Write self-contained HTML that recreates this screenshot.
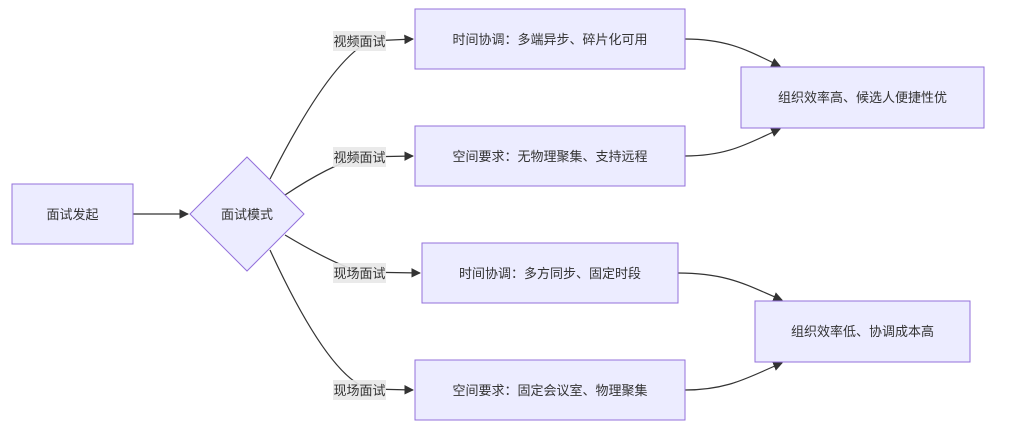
<!DOCTYPE html>
<html><head><meta charset="utf-8"><style>
body{margin:0;background:#fff;}
svg{display:block}
text{font-family:"Liberation Sans","Noto Sans CJK SC",sans-serif;font-size:13px;fill:#333;}
.n{fill:#ECECFF;stroke:#9370DB;stroke-width:1;}
.e{fill:none;stroke:#333;stroke-width:1.2;}
.lb{fill:#e8e8e8;opacity:0.9}
</style></head><body>
<svg width="1011" height="441" viewBox="0 0 1011 441">
<defs><marker id="a" viewBox="0 0 10 10" refX="9" refY="5" markerWidth="8" markerHeight="8" orient="auto"><path d="M0,0 L10,5 L0,10 z" fill="#333"/></marker></defs>
<path class="e" d="M133,214 L188,214" marker-end="url(#a)"/>
<path class="e" d="M270,179 Q330,60 370,41 L413,39" marker-end="url(#a)"/>
<path class="e" d="M285,195 Q330,165 360,157 L413,156" marker-end="url(#a)"/>
<path class="e" d="M285,235 Q330,262 360,272 L420,273" marker-end="url(#a)"/>
<path class="e" d="M270,250 Q330,380 370,389 L413,390" marker-end="url(#a)"/>
<path class="e" d="M685,39 C730,39 750,52 780,66" marker-end="url(#a)"/>
<path class="e" d="M685,156 C730,156 750,142 780,129" marker-end="url(#a)"/>
<path class="e" d="M678,273 C730,273 750,287 782,300" marker-end="url(#a)"/>
<path class="e" d="M685,390 C730,390 750,376 782,363" marker-end="url(#a)"/>
<rect class="n" x="12" y="184" width="121" height="60"/>
<text x="72.5" y="219" text-anchor="middle">面试发起</text>
<polygon class="n" points="247,157 304,214 247,271 190,214"/>
<text x="247" y="219" text-anchor="middle">面试模式</text>
<rect class="lb" x="333" y="31" width="53" height="20"/><text x="359.5" y="46" text-anchor="middle">视频面试</text>
<rect class="lb" x="333" y="147" width="53" height="20"/><text x="359.5" y="162" text-anchor="middle">视频面试</text>
<rect class="lb" x="333" y="263" width="53" height="20"/><text x="359.5" y="278" text-anchor="middle">现场面试</text>
<rect class="lb" x="333" y="380" width="53" height="20"/><text x="359.5" y="395" text-anchor="middle">现场面试</text>
<rect class="n" x="415" y="9" width="270" height="60"/><text x="550" y="44" text-anchor="middle">时间协调：多端异步、碎片化可用</text>
<rect class="n" x="415" y="126" width="270" height="60"/><text x="550" y="161" text-anchor="middle">空间要求：无物理聚集、支持远程</text>
<rect class="n" x="422" y="243" width="256" height="60"/><text x="550" y="278" text-anchor="middle">时间协调：多方同步、固定时段</text>
<rect class="n" x="415" y="360" width="270" height="60"/><text x="550" y="395" text-anchor="middle">空间要求：固定会议室、物理聚集</text>
<rect class="n" x="741" y="67" width="243" height="61"/><text x="862.5" y="102" text-anchor="middle">组织效率高、候选人便捷性优</text>
<rect class="n" x="755" y="301" width="215" height="61"/><text x="862.5" y="336" text-anchor="middle">组织效率低、协调成本高</text>
</svg>
</body></html>
